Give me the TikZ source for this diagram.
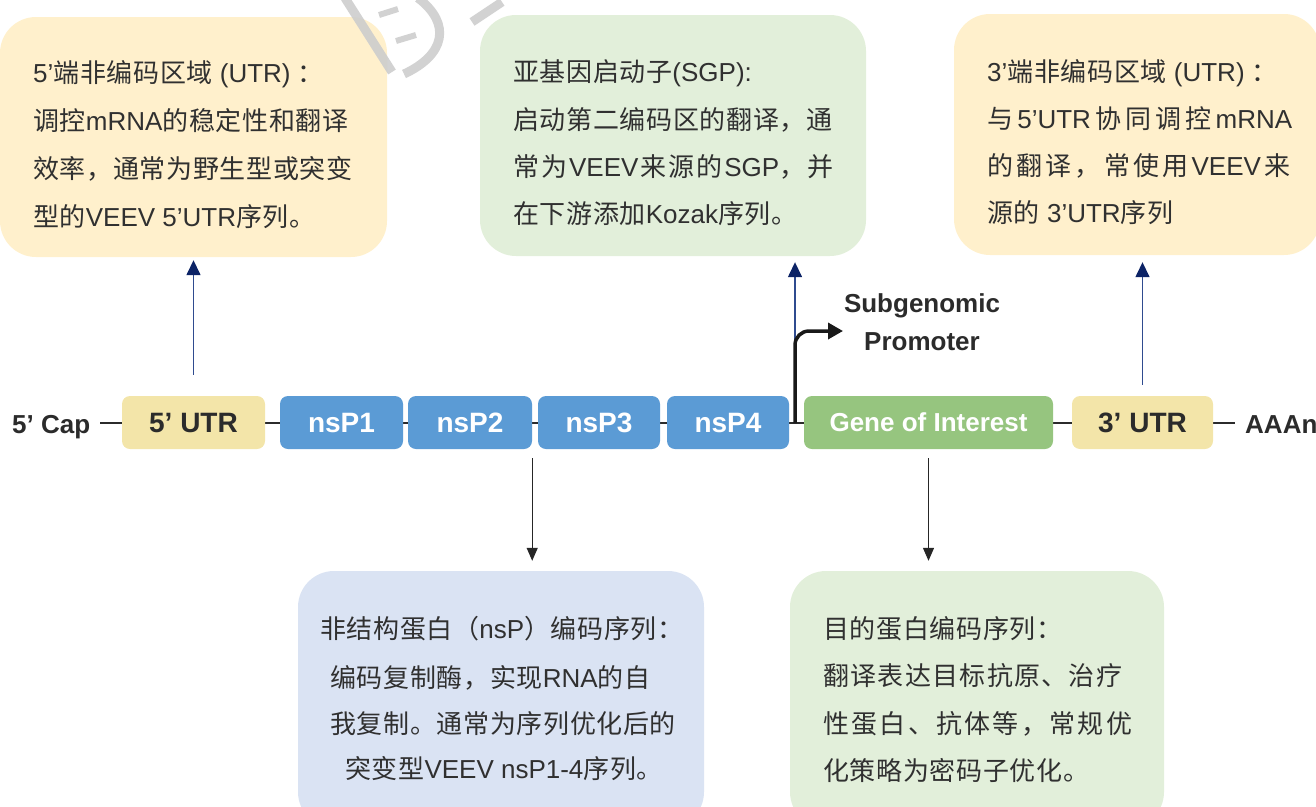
\documentclass[tikz,border=0pt]{standalone}
\usepackage{fontspec}
\setmainfont{Liberation Sans}
\newfontfamily\zh[LetterSpace=2.5]{Noto Sans CJK SC}
\usetikzlibrary{arrows.meta}
\definecolor{yelbox}{HTML}{FFF0CC}
\definecolor{grnbox}{HTML}{E2EFDA}
\definecolor{blubox}{HTML}{DAE3F3}
\definecolor{utrfill}{HTML}{F3E5A9}
\definecolor{nspfill}{HTML}{5B9BD5}
\definecolor{goifill}{HTML}{96C57F}
\definecolor{txt}{HTML}{2B2B2B}
\definecolor{infotxt}{HTML}{303030}
\definecolor{navy}{HTML}{2F4B8F}
\definecolor{navytip}{HTML}{0C2366}
\definecolor{wmgray}{HTML}{CDCDCD}
\begin{document}
\begin{tikzpicture}[x=1pt,y=-1pt,
  info/.style={rounded corners=36pt, inner sep=0pt, draw=none},
  seg/.style={rounded corners=8pt, minimum height=53pt, inner sep=0pt,
    font=\fontsize{28}{30}\selectfont\bfseries},
  ln/.style={anchor=base west, inner sep=0pt, text=infotxt,
    font=\fontsize{26}{30}\selectfont},
  lbl/.style={inner sep=0pt, text=txt, font=\fontsize{26}{30}\selectfont\bfseries},
  uparr/.style={draw=navy, line width=1.5pt,
    -{Triangle[width=14pt,length=15pt,fill=navytip,color=navytip]}},
  downarr/.style={draw=black!85, line width=1.2pt,
    -{Triangle[width=11pt,length=13pt]}},
  backbone/.style={draw=txt, line width=2.5pt},
  promo/.style={draw=black!90, line width=3.5pt, rounded corners=14pt,
    -{Triangle[width=16pt,length=15pt]}},
  wmark/.style={draw=wmgray, line width=9pt, opacity=0.9}
]
\useasboundingbox (0,0) rectangle (1316,806);
\clip (0,0) rectangle (1316,806);

% info boxes
\node[info, fill=yelbox, minimum width=387pt, minimum height=240pt] (info1) at (193.5,137) {};
\node[info, fill=grnbox, minimum width=386pt, minimum height=241pt] (info2) at (673,135.5) {};
\node[info, fill=yelbox, minimum width=366pt, minimum height=241pt] (info3) at (1137,134.5) {};
\node[info, fill=blubox, minimum width=406pt, minimum height=257pt] (info4) at (501,699.5) {};
\node[info, fill=grnbox, minimum width=374pt, minimum height=257pt] (info5) at (977,699.5) {};

% info texts
\node[ln] (t1a) at (33,82) {5’{\zh 端非编码区域} (UTR) {\zh ：}};
\node[ln] (t1b) at (33,130) {{\zh 调控}mRNA{\zh 的稳定性和翻译}};
\node[ln] (t1c) at (33,178) {{\zh 效率，通常为野生型或突变}};
\node[ln] (t1d) at (33,226) {{\zh 型的}VEEV 5’UTR{\zh 序列。}};

\node[ln] (t2a) at (513,81) {{\zh 亚基因启动子}(SGP):};
\node[ln] (t2b) at (513,129) {{\zh 启动第二编码区的翻译，通}};
\node[ln] (t2c) at (513,176) {\makebox[320pt][s]{{\zh 常}\hfil{\zh 为}\hfil VEEV\hfil{\zh 来}\hfil{\zh 源}\hfil{\zh 的}\hfil SGP{\zh ，}\hfil{\zh 并}}};
\node[ln] (t2d) at (513,223) {{\zh 在下游添加}Kozak{\zh 序列。}};

\node[ln] (t3a) at (987,81) {3’{\zh 端非编码区域} (UTR) {\zh ：}};
\node[ln] (t3b) at (987,128) {\makebox[305pt][s]{{\zh 与}\hfil 5’UTR\hfil{\zh 协}\hfil{\zh 同}\hfil{\zh 调}\hfil{\zh 控}\hfil mRNA}};
\node[ln] (t3c) at (987,175) {\makebox[303pt][s]{{\zh 的}\hfil{\zh 翻}\hfil{\zh 译}\hfil{\zh ，}\hfil{\zh 常}\hfil{\zh 使}\hfil{\zh 用}\hfil VEEV\hfil{\zh 来}}};
\node[ln] (t3d) at (987,222) {{\zh 源的} 3’UTR{\zh 序列}};

\node[ln] (t4a) at (320,638) {{\zh 非结构蛋白（}nsP{\zh ）编码序列：}};
\node[ln] (t4b) at (330,687) {{\zh 编码复制酶，实现}RNA{\zh 的自}};
\node[ln] (t4c) at (330,733) {{\zh 我复制。通常为序列优化后的}};
\node[ln] (t4d) at (345,778) {{\zh 突变型}VEEV nsP1-4{\zh 序列。}};

\node[ln] (t5a) at (823,638) {{\zh 目的蛋白编码序列：}};
\node[ln] (t5b) at (823,685) {\makebox[299pt][s]{\zh 翻\hfil 译\hfil 表\hfil 达\hfil 目\hfil 标\hfil 抗\hfil 原\hfil 、\hfil 治\hfil 疗}};
\node[ln] (t5c) at (823,733) {\makebox[309pt][s]{\zh 性\hfil 蛋\hfil 白\hfil 、\hfil 抗\hfil 体\hfil 等\hfil ，\hfil 常\hfil 规\hfil 优}};
\node[ln] (t5d) at (823,780) {{\zh 化策略为密码子优化。}};

% backbone
\coordinate (bbL) at (100,423);
\coordinate (bbR) at (1235,423);
\coordinate (sgp) at (795,423);
\coordinate (sgpend) at (843,331);
\draw[backbone] (bbL) -- (bbR);

% segments
\node[seg, fill=utrfill, text=txt, minimum width=143pt] (utr5) at (193.5,422.5) {5’ UTR};
\node[seg, fill=nspfill, text=white, minimum width=123pt] (nsp1) at (341.5,422.5) {nsP1};
\node[seg, fill=nspfill, text=white, minimum width=124pt] (nsp2) at (470,422.5) {nsP2};
\node[seg, fill=nspfill, text=white, minimum width=122pt] (nsp3) at (599,422.5) {nsP3};
\node[seg, fill=nspfill, text=white, minimum width=122pt] (nsp4) at (728,422.5) {nsP4};
\node[seg, fill=goifill, text=white, minimum width=249pt, font=\fontsize{26}{30}\selectfont\bfseries] (goi) at (928.5,422.5) {Gene of Interest};
\node[seg, fill=utrfill, text=txt, minimum width=141pt] (utr3) at (1142.5,422.5) {3’ UTR};

\node[lbl, anchor=base west] (cap) at (12,433) {5’ Cap};
\node[lbl, anchor=base west] (polyA) at (1245,433) {AAAn};
\node[lbl, anchor=base] (sub1) at (922,312.5) {Subgenomic};
\node[lbl, anchor=base] (sub2) at (922,350) {Promoter};

% arrows
\draw[uparr, shorten <=21pt, shorten >=3pt] (utr5.north) -- (utr5.north |- info1.south);
\draw[uparr, shorten >=6pt] (sgp) -- (sgp |- info2.south);
\draw[uparr, shorten <=11pt, shorten >=7pt] (utr3.north) -- (utr3.north |- info3.south);
\draw[promo] (sgp) |- (sgpend);
\draw[downarr, shorten <=9pt, shorten >=10pt] (nsp2.south east) -- (nsp2.south east |- info4.north);
\draw[downarr, shorten <=9pt, shorten >=10pt] (goi.south) -- (goi.south |- info5.north);

% watermark fragment
\draw[wmark] (345,-2) -- (392,72);
\draw[wmark, line width=6pt] (379,15) -- (398,9);
\draw[wmark, line width=6pt] (396,41) -- (416,35);
\draw[wmark] (418,-2) .. controls (452,24) and (445,55) .. (404,74);
\draw[wmark] (472,22) -- (502,2);
\end{tikzpicture}
\end{document}
